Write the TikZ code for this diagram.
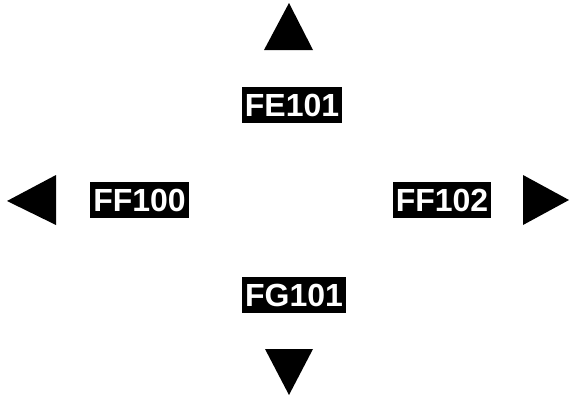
\documentclass[tikz,border=0pt]{standalone}
\usepackage{fontspec}
\setsansfont{Liberation Sans}
\usetikzlibrary{positioning}

\begin{document}
\begin{tikzpicture}[x=1pt, y=-1pt,
  tag/.style={fill=black, text=white, font=\sffamily\bfseries\fontsize{32}{36}\selectfont,
    text height=23pt, text depth=0pt, inner xsep=3pt, inner ysep=6.5pt}]
\useasboundingbox (0,0) rectangle (573,399);
% Labels
\node[tag] (fe101) at (292,105) {FE101};
\node[tag] (ff100) at (139.5,200) {FF100};
\node[tag] (ff102) at (442,200) {FF102};
\node[tag] (fg101) at (294,295) {FG101};
% Arrow heads
\fill (289,3) -- (313,50) -- (264,50) -- cycle;
\fill (289,395) -- (313,349) -- (265,349) -- cycle;
\fill (7,201) -- (56,175) -- (56,225) -- cycle;
\fill (569,200) -- (523,175) -- (523,225) -- cycle;
\end{tikzpicture}
\end{document}
